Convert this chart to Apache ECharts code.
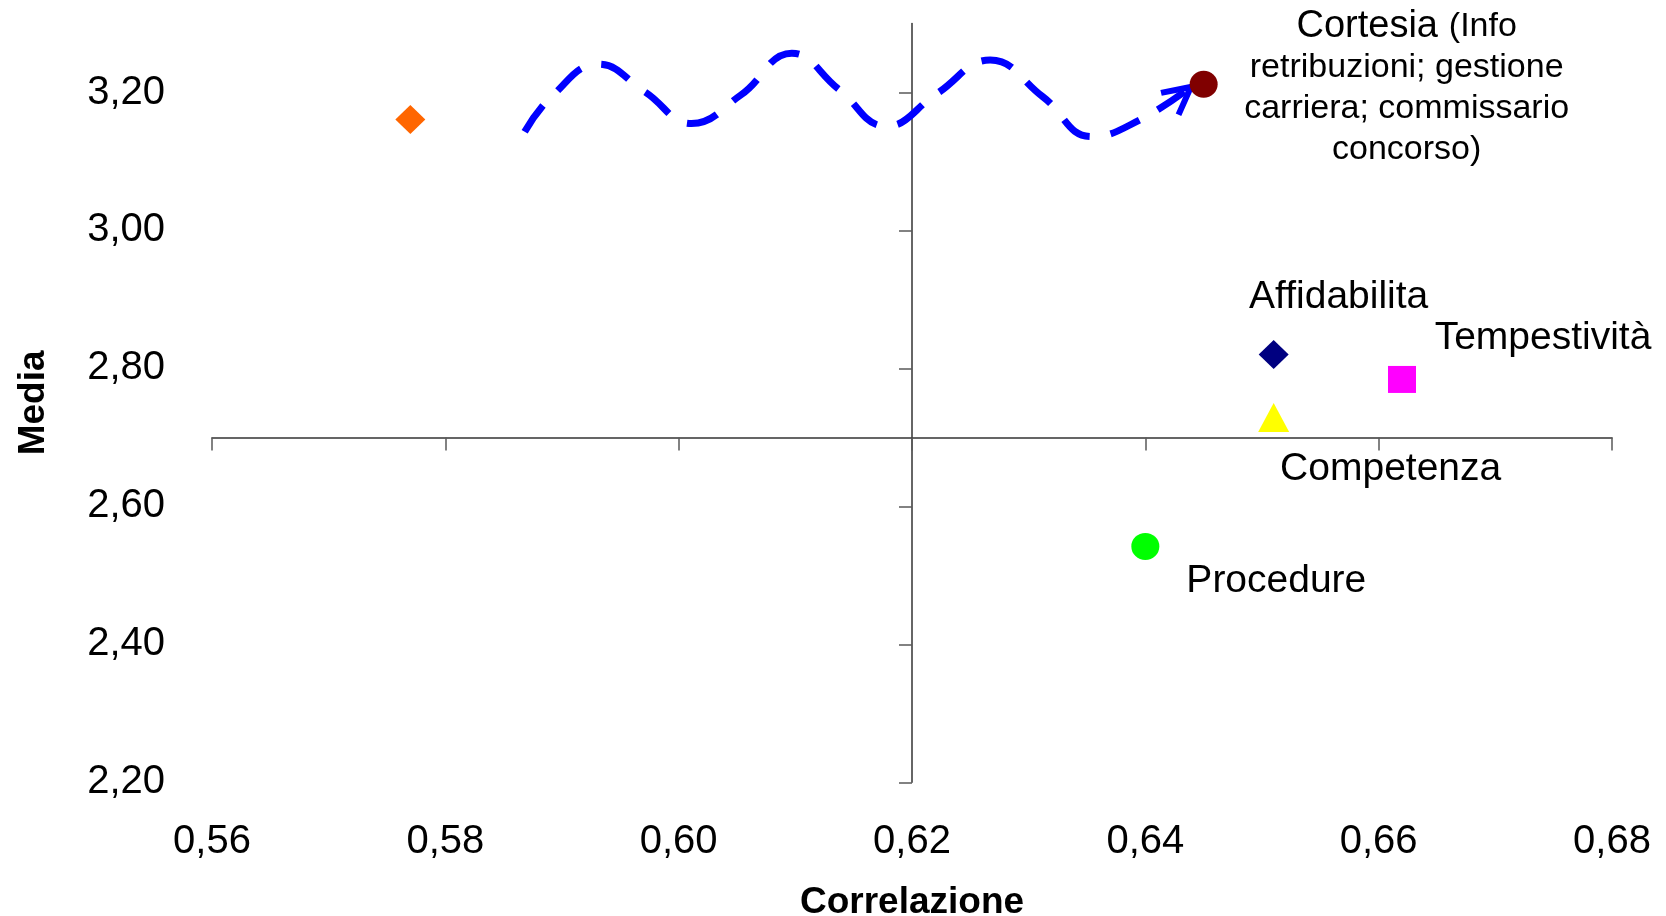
<!DOCTYPE html>
<html>
<head>
<meta charset="utf-8">
<script src="https://cdn.jsdelivr.net/npm/echarts@6/dist/echarts.min.js"></script>
<style>
html,body{margin:0;padding:0;background:#ffffff;}
#chart{width:1666px;height:916px;}
</style>
</head>
<body>
<div id="chart"></div>
<script>
// ---- data ----
const pointNames   = ['', 'Cortesia', 'Affidabilita', 'Tempestività', 'Competenza', 'Procedure'];
const correlazione = [0.577, 0.645, 0.651, 0.662, 0.651, 0.640];
const media        = [3.161, 3.212, 2.820, 2.784, 2.729, 2.542];
const cortesiaNote = ['(Info', 'retribuzioni; gestione', 'carriera; commissario', 'concorso)'];

const xTickValues = [0.56, 0.58, 0.60, 0.62, 0.64, 0.66, 0.68];
const xTickLabels = ['0,56', '0,58', '0,60', '0,62', '0,64', '0,66', '0,68'];
const yTickValues = [2.2, 2.4, 2.6, 2.8, 3.0, 3.2];
const yTickLabels = ['2,20', '2,40', '2,60', '2,80', '3,00', '3,20'];
const xCross = 0.62;   // where the vertical axis line crosses
const yCross = 2.70;   // where the horizontal axis line crosses

// wavy arrow path (data coordinates)
const waveX = [0.5868, 0.5891, 0.5931, 0.5971, 0.6011, 0.6053, 0.6097, 0.6137, 0.6178, 0.6221, 0.6267, 0.6312, 0.6354, 0.6395, 0.6439];
const waveY = [3.143, 3.194, 3.241, 3.201, 3.155, 3.196, 3.257, 3.205, 3.151, 3.198, 3.247, 3.194, 3.136, 3.160, 3.208];

// ---- styles ----
const FONT = '"Liberation Sans", Arial, Helvetica, sans-serif';
const markerSymbols = ['diamond', 'circle', 'diamond', 'rect', 'triangle', 'circle'];
const markerSizes   = [[30, 29], [28, 27], [30, 29], [28, 27], [31, 29], [28, 27]];
const markerColors  = ['#FF6600', '#800000', '#000080', '#FF00FF', '#FFFF00', '#00FF00'];
const labelOffsets  = [[0, 0], [203, 4], [65, -57], [141, -41], [117, 52], [131, 35]];

const X_MIN = 0.56, X_MAX = 0.68, X_INT = 0.02;
const Y_MIN = 2.2, Y_MAX = 3.3, Y_INT = 0.2;

const fmt = (vals, labels) => v => {
  for (let i = 0; i < vals.length; i++) if (Math.abs(vals[i] - v) < 1e-6) return labels[i];
  return '';
};

const scatterData = pointNames.map((n, i) => ({
  name: n,
  value: [correlazione[i], media[i]],
  symbol: markerSymbols[i],
  symbolSize: markerSizes[i],
  itemStyle: { color: markerColors[i], opacity: 1 },
  label: { show: n !== '', offset: labelOffsets[i] }
}));

const arrowPath = 'path://M0,27 L14,0 L28,27';
const waveData = waveX.map((x, i) => {
  const last = i === waveX.length - 1;
  return last ? {
    value: [x, waveY[i]],
    symbol: arrowPath,
    symbolSize: [28, 27],
    symbolRotate: -51.4,
    symbolOffset: [-10.5, 8.4],
    itemStyle: { color: 'none', borderColor: '#0000FF', borderWidth: 6, opacity: 1 }
  } : { value: [x, waveY[i]], symbol: 'none' };
});

const axisLineStyle = { color: '#333333', width: 1.5 };
const tickLineStyle = { color: '#5a5a5a', width: 1.5 };

const option = {
  animation: false,
  backgroundColor: '#ffffff',
  grid: { left: 212, right: 54, top: 23.5, bottom: 133.7, containLabel: false, outerBoundsMode: 'none' },
  xAxis: [
    {
      type: 'value', min: X_MIN, max: X_MAX, interval: X_INT, position: 'bottom',
      axisLine: { show: false, onZero: false },
      axisTick: { show: false },
      splitLine: { show: false },
      axisLabel: { formatter: fmt(xTickValues, xTickLabels), fontSize: 40, fontFamily: FONT, color: '#000', margin: 40 },
      name: 'Correlazione', nameLocation: 'middle', nameGap: 102,
      nameTextStyle: { fontSize: 37, fontWeight: 'bold', fontFamily: FONT, color: '#000' }
    },
    {
      type: 'value', min: X_MIN - xCross, max: X_MAX - xCross, interval: X_INT, position: 'bottom',
      axisLine: { show: true, onZero: true, onZeroAxisIndex: 1, lineStyle: axisLineStyle },
      axisTick: { show: true, length: 13, lineStyle: tickLineStyle },
      axisLabel: { show: false },
      splitLine: { show: false }
    }
  ],
  yAxis: [
    {
      type: 'value', min: Y_MIN, max: Y_MAX, interval: Y_INT, position: 'left',
      axisLine: { show: false, onZero: false },
      axisTick: { show: false },
      splitLine: { show: false },
      axisLabel: { formatter: fmt(yTickValues, yTickLabels), fontSize: 40, fontFamily: FONT, color: '#000', margin: 47, showMaxLabel: false, verticalAlign: 'middle', padding: [8, 0, 0, 0] },
      name: 'Media', nameLocation: 'middle', nameGap: 160,
      nameTextStyle: { fontSize: 37, fontWeight: 'bold', fontFamily: FONT, color: '#000' }
    },
    {
      type: 'value', min: Y_MIN - yCross, max: Y_MAX - yCross, interval: Y_INT, position: 'left',
      axisLine: { show: true, onZero: true, onZeroAxisIndex: 1, lineStyle: axisLineStyle },
      axisTick: { show: true, length: 13, lineStyle: tickLineStyle,
                  customValues: yTickValues.map(v => +(v - yCross).toFixed(4)) },
      axisLabel: { show: false },
      splitLine: { show: false }
    }
  ],
  series: [
    {
      type: 'line',
      xAxisIndex: 0, yAxisIndex: 0,
      data: waveData,
      smooth: 0.45,
      silent: true,
      emphasis: { disabled: true },
      lineStyle: { color: '#0000FF', width: 7, type: [32, 21], cap: 'butt', opacity: 1 },
      z: 3
    },
    {
      type: 'scatter',
      xAxisIndex: 0, yAxisIndex: 0,
      data: scatterData,
      silent: true,
      emphasis: { disabled: true },
      itemStyle: { opacity: 1 },
      z: 4,
      label: {
        position: 'inside',
        align: 'center',
        verticalAlign: 'middle',
        fontSize: 39,
        lineHeight: 41,
        fontFamily: FONT,
        color: '#000000',
        opacity: 1,
        formatter: p => p.name === 'Cortesia'
          ? '{a|Cortesia} {b|' + cortesiaNote[0] + '}\n' + cortesiaNote.slice(1).map(s => '{b|' + s + '}').join('\n')
          : p.name,
        rich: {
          a: { fontSize: 38, lineHeight: 41, fontFamily: FONT, color: '#000000' },
          b: { fontSize: 34, lineHeight: 41, fontFamily: FONT, color: '#000000' }
        }
      }
    }
  ]
};

const chart = echarts.init(document.getElementById('chart'), null, { renderer: 'canvas' });
chart.setOption(option);
</script>
</body>
</html>
